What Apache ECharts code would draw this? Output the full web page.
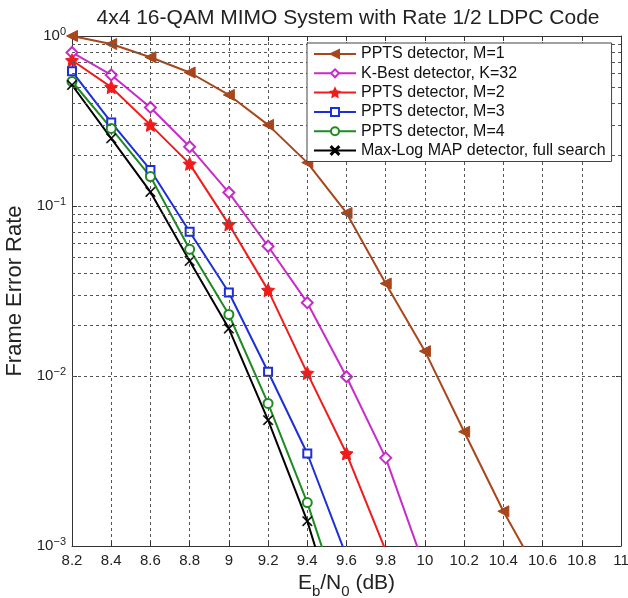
<!DOCTYPE html>
<html>
<head>
<meta charset="utf-8">
<script src="https://cdn.jsdelivr.net/npm/echarts@6/dist/echarts.min.js"></script>
<style>
    html, body { margin: 0; padding: 0; background: #fff; }
    #chart { width: 628px; height: 598px; }
</style>
</head>
<body>
<div id="chart"></div>
<script>
// Eb/N0 points (dB); the last value of each list falls under 1e-3 and gets clipped
const ebno = [8.2, 8.4, 8.6, 8.8, 9.0, 9.2, 9.4, 9.6, 9.8, 10.0, 10.2, 10.4, 10.6];
const pptsM1 = [1.0, 0.897, 0.75, 0.61, 0.45, 0.30, 0.18, 0.091, 0.035, 0.014, 0.0047, 0.0016, 0.00062];
const kBest32 = [0.80, 0.59, 0.38, 0.223, 0.12, 0.058, 0.027, 0.0099, 0.0033, 0.00074];
const pptsM2 = [0.72, 0.50, 0.30, 0.177, 0.078, 0.032, 0.0104, 0.0035, 0.00094];
const pptsM3 = [0.62, 0.31, 0.163, 0.0706, 0.031, 0.0106, 0.0035, 0.00087];
const pptsM4 = [0.54, 0.286, 0.149, 0.0556, 0.023, 0.0069, 0.0018, 0.00036];
const maxLogMap = [0.515, 0.25, 0.121, 0.0475, 0.019, 0.0055, 0.0014, 0.00025];

const seriesNames = [
    'PPTS detector, M=1',
    'K-Best detector, K=32',
    'PPTS detector, M=2',
    'PPTS detector, M=3',
    'PPTS detector, M=4',
    'Max-Log MAP detector, full search'
];
const seriesColors = ['#a8461c', '#c72cc9', '#f01c1c', '#1c2fd8', '#1f8a22', '#000000'];

const FONT = 'Liberation Sans, Arial, sans-serif';
const STAR = 'path://M0,-10 L2.94,-4.05 9.51,-3.09 4.76,1.55 5.88,8.09 0,5 -5.88,8.09 -4.76,1.55 -9.51,-3.09 -2.94,-4.05Z';
const CROSS = 'path://M-5,-6 L0,-1 L5,-6 L6,-5 L1,0 L6,5 L5,6 L0,1 L-5,6 L-6,5 L-1,0 L-6,-5Z';

// minor log grid lines at 2..9 x 10^k
let minorLines = [];
[0.001, 0.01, 0.1].forEach(function (d) {
    for (let m = 2; m <= 9; m++) {
        minorLines.push({ yAxis: +(m * d).toPrecision(3) });
    }
});

function pairs(arr) {
    return arr.map(function (v, i) { return [ebno[i], v]; });
}

let myChart = echarts.init(document.getElementById('chart'));

const gridLine = { show: true, lineStyle: { color: '#555', type: [3, 3], width: 1 } };

let dataSets = [pptsM1, kBest32, pptsM2, pptsM3, pptsM4, maxLogMap];
let symbols = ['triangle', 'emptyDiamond', STAR, 'emptyRect', 'emptyCircle', CROSS];
let symbolSizes = [11, 11, 13, 8, 9, 10];
let rotates = [90, 0, 0, 0, 0, 0];

let series = dataSets.map(function (d, i) {
    return {
        name: seriesNames[i],
        type: 'line',
        data: pairs(d),
        clip: true,
        symbol: symbols[i],
        symbolSize: symbolSizes[i],
        symbolRotate: rotates[i],
        showAllSymbol: true,
        lineStyle: { width: 2, color: seriesColors[i] },
        itemStyle: { color: seriesColors[i], borderColor: seriesColors[i], borderWidth: 2 },
        z: 3
    };
});
series[0].itemStyle.borderWidth = 1;
series[2].itemStyle.borderWidth = 1;
series[5].itemStyle.borderWidth = 0.5;

// holder for the minor grid lines
series.push({
    type: 'line',
    data: [],
    silent: true,
    z: 1,
    markLine: {
        silent: true,
        symbol: ['none', 'none'],
        label: { show: false },
        lineStyle: { color: '#555', type: [3, 3], width: 1 },
        data: minorLines,
        animation: false
    }
});

let option = {
    animation: false,
    textStyle: { fontFamily: FONT },
    title: {
        text: '4x4 16-QAM MIMO System with Rate 1/2 LDPC Code',
        left: 343,
        textAlign: 'center',
        top: 3,
        textStyle: { fontFamily: FONT, fontSize: 21, fontWeight: 'normal', color: '#222' }
    },
    grid: { left: 72, right: 7, top: 36, bottom: 52, containLabel: false, outerBoundsMode: 'none' },
    legend: {
        data: seriesNames,
        orient: 'vertical',
        left: 307,
        top: 43,
        z: 50,
        itemWidth: 42,
        itemHeight: 10,
        itemGap: 3.3,
        padding: [3, 6, 3, 6],
        backgroundColor: '#fff',
        borderColor: '#444',
        borderWidth: 1,
        textStyle: { fontFamily: FONT, fontSize: 16, color: '#111', lineHeight: 16 }
    },
    xAxis: [{
        type: 'value',
        min: 8.2,
        max: 11,
        interval: 0.2,
        name: '{n|E}{s|b}{n|/N}{s|0}{n| (dB)}',
        nameLocation: 'middle',
        nameGap: 20,
        nameTextStyle: {
            rich: {
                n: { fontFamily: FONT, fontSize: 21, color: '#222', lineHeight: 26, verticalAlign: 'top' },
                s: { fontFamily: FONT, fontSize: 15, color: '#222', lineHeight: 26, verticalAlign: 'bottom' }
            }
        },
        axisLine: { lineStyle: { color: '#333', width: 1 } },
        axisTick: { inside: true, length: 5, lineStyle: { color: '#333' } },
        axisLabel: { fontFamily: FONT, fontSize: 15, color: '#222', margin: 7 },
        splitLine: gridLine
    }, {
        type: 'value',
        position: 'top',
        min: 8.2,
        max: 11,
        interval: 0.2,
        axisLine: { show: true, lineStyle: { color: '#333', width: 1 } },
        axisTick: { show: true, inside: true, length: 5, lineStyle: { color: '#333' } },
        axisLabel: { show: false },
        splitLine: { show: false }
    }],
    yAxis: [{
        type: 'log',
        logBase: 10,
        min: 0.001,
        max: 1,
        name: 'Frame Error Rate',
        nameLocation: 'middle',
        nameRotate: 90,
        nameGap: 36,
        nameTextStyle: { fontFamily: FONT, fontSize: 22, color: '#222' },
        axisLine: { show: true, lineStyle: { color: '#333', width: 1 } },
        axisTick: { show: true, inside: true, length: 5, lineStyle: { color: '#333' } },
        axisLabel: {
            margin: 6,
            formatter: function (v) {
                let e = Math.round(Math.log10(v));
                return '{b|10}{s|' + (e === 0 ? '0' : '\u2212' + (-e)) + '}';
            },
            rich: {
                b: { fontFamily: FONT, fontSize: 15, color: '#222' },
                s: { fontFamily: FONT, fontSize: 11, color: '#222', padding: [0, 0, 9, 0] }
            }
        },
        splitLine: gridLine
    }, {
        type: 'log',
        logBase: 10,
        min: 0.001,
        max: 1,
        position: 'right',
        axisLine: { show: true, lineStyle: { color: '#333', width: 1 } },
        axisTick: { show: true, inside: true, length: 5, lineStyle: { color: '#333' } },
        axisLabel: { show: false },
        splitLine: { show: false }
    }],
    series: series
};

myChart.setOption(option);
</script>
</body>
</html>
